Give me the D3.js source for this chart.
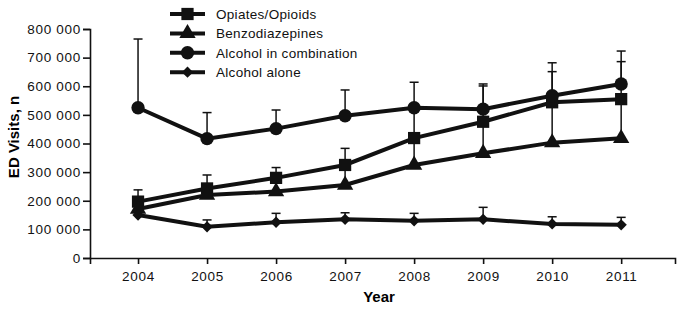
<!DOCTYPE html>
<html>
<head>
<meta charset="utf-8">
<script src="https://cdn.jsdelivr.net/npm/d3@7"></script>
<style>
  body { margin: 0; background: #fff; }
  svg { font-family: "Liberation Sans", Arial, sans-serif; }
</style>
</head>
<body>
<div id="chart"></div>
<script>
// data (ED visits)
var years = [2004, 2005, 2006, 2007, 2008, 2009, 2010, 2011];
var seriesNames = ["Opiates/Opioids", "Benzodiazepines", "Alcohol in combination", "Alcohol alone"];
var opioids = [197000, 243000, 280000, 325000, 419000, 476000, 544000, 555000];
var opioidsUpper = [238000, 290000, 316000, 383000, 525000, 601000, 651000, 686000];
var benzo = [171000, 220000, 232000, 255000, 325000, 366000, 403000, 418000];
var benzoUpper = [171000, 220000, 232000, 325000, 419000, 476000, 544000, 555000];
var alcComb = [525000, 417000, 452000, 497000, 525000, 520000, 567000, 608000];
var alcCombUpper = [765000, 508000, 517000, 587000, 614000, 608000, 682000, 723000];
var alcAlone = [150000, 109000, 125000, 135000, 130000, 135000, 119000, 116000];
var alcAloneUpper = [150000, 133000, 156000, 158000, 156000, 177000, 144000, 142000];
var yTicks = [0, 100000, 200000, 300000, 400000, 500000, 600000, 700000, 800000];

// build series list from the arrays
var series = [
  {name: seriesNames[0], symbol: d3.symbolSquare, size: 150, rot: 0, values: opioids, upper: opioidsUpper},
  {name: seriesNames[1], symbol: d3.symbolTriangle, size: 115, rot: 0, values: benzo, upper: benzoUpper},
  {name: seriesNames[2], symbol: d3.symbolCircle, size: 140, rot: 0, values: alcComb, upper: alcCombUpper},
  {name: seriesNames[3], symbol: d3.symbolSquare, size: 64, rot: 45, values: alcAlone, upper: alcAloneUpper}
];

var width = 681, height = 309;

var svg = d3.select("#chart").append("svg")
    .attr("width", width)
    .attr("height", height);

// scales
var x = d3.scaleLinear()
    .domain([2003.304, 2011.78])
    .range([90, 675]);
var y = d3.scaleLinear()
    .domain([0, 800000])
    .range([258, 29]);

var fmt = d3.formatLocale({decimal: ".", thousands: " ", grouping: [3], currency: ["", ""]}).format(",");

// x axis
svg.append("g")
    .attr("transform", "translate(0,258)")
    .call(d3.axisBottom(x).tickValues(years).tickFormat(d3.format("d")).tickSizeOuter(0).tickSize(6).tickPadding(7));

// y axis
svg.append("g")
    .attr("transform", "translate(90,0)")
    .call(d3.axisLeft(y).tickValues(yTicks).tickFormat(fmt).tickSizeOuter(0).tickSize(7).tickPadding(2));

svg.selectAll(".domain, .tick line")
    .attr("stroke", "#111")
    .attr("stroke-width", 1.6);
svg.selectAll(".tick text")
    .attr("fill", "#111")
    .style("font-size", "13.5px")
    .style("letter-spacing", "0.7px");

// axis titles
svg.append("text")
    .attr("x", 379)
    .attr("y", 302)
    .attr("text-anchor", "middle")
    .style("font-size", "15px")
    .style("font-weight", "bold")
    .text("Year");

svg.append("text")
    .attr("transform", "translate(19,137) rotate(-90)")
    .attr("text-anchor", "middle")
    .style("font-size", "15px")
    .style("font-weight", "bold")
    .text("ED Visits, n");

var line = d3.line()
    .x(function(d) { return x(d.year); })
    .y(function(d) { return y(d.value); });

series.forEach(function(s) {
  var pts = years.map(function(yr, i) {
    return {year: yr, value: s.values[i], upper: s.upper[i]};
  });
  var withErr = pts.filter(function(d) { return d.upper > d.value; });

  // error bars (upper only)
  var eb = svg.append("g");
  eb.selectAll("line.err")
      .data(withErr)
    .enter().append("line")
      .attr("x1", function(d) { return x(d.year); })
      .attr("x2", function(d) { return x(d.year); })
      .attr("y1", function(d) { return y(d.value); })
      .attr("y2", function(d) { return y(d.upper); })
      .attr("stroke", "#111")
      .attr("stroke-width", 1.5);
  eb.selectAll("line.cap")
      .data(withErr)
    .enter().append("line")
      .attr("x1", function(d) { return x(d.year) - 4.5; })
      .attr("x2", function(d) { return x(d.year) + 4.5; })
      .attr("y1", function(d) { return y(d.upper); })
      .attr("y2", function(d) { return y(d.upper); })
      .attr("stroke", "#111")
      .attr("stroke-width", 1.5);
  s.pts = pts;
});

series.forEach(function(s) {
  svg.append("path")
      .datum(s.pts)
      .attr("d", line)
      .attr("fill", "none")
      .attr("stroke", "#111")
      .attr("stroke-width", 4);

  svg.selectAll(null)
      .data(s.pts)
    .enter().append("path")
      .attr("transform", function(d) { return "translate(" + x(d.year) + "," + y(d.value) + ") rotate(" + s.rot + ")"; })
      .attr("d", d3.symbol().type(s.symbol).size(s.size))
      .attr("fill", "#111");
});

// legend
var legend = svg.append("g")
    .attr("transform", "translate(170,14)");

var rows = legend.selectAll("g")
    .data(series)
  .enter().append("g")
    .attr("transform", function(d, i) { return "translate(0," + (i * 19.4) + ")"; });

rows.append("line")
    .attr("x1", 0)
    .attr("x2", 35)
    .attr("stroke", "#111")
    .attr("stroke-width", 4);

rows.append("path")
    .attr("transform", function(d) { return "translate(17.5,0) rotate(" + d.rot + ")"; })
    .attr("d", function(d) { return d3.symbol().type(d.symbol).size(d.size)(); })
    .attr("fill", "#111");

rows.append("text")
    .attr("x", 46)
    .attr("dy", "0.36em")
    .style("font-size", "13.5px")
    .style("letter-spacing", "0.3px")
    .attr("fill", "#111")
    .text(function(d) { return d.name; });
</script>
</body>
</html>
